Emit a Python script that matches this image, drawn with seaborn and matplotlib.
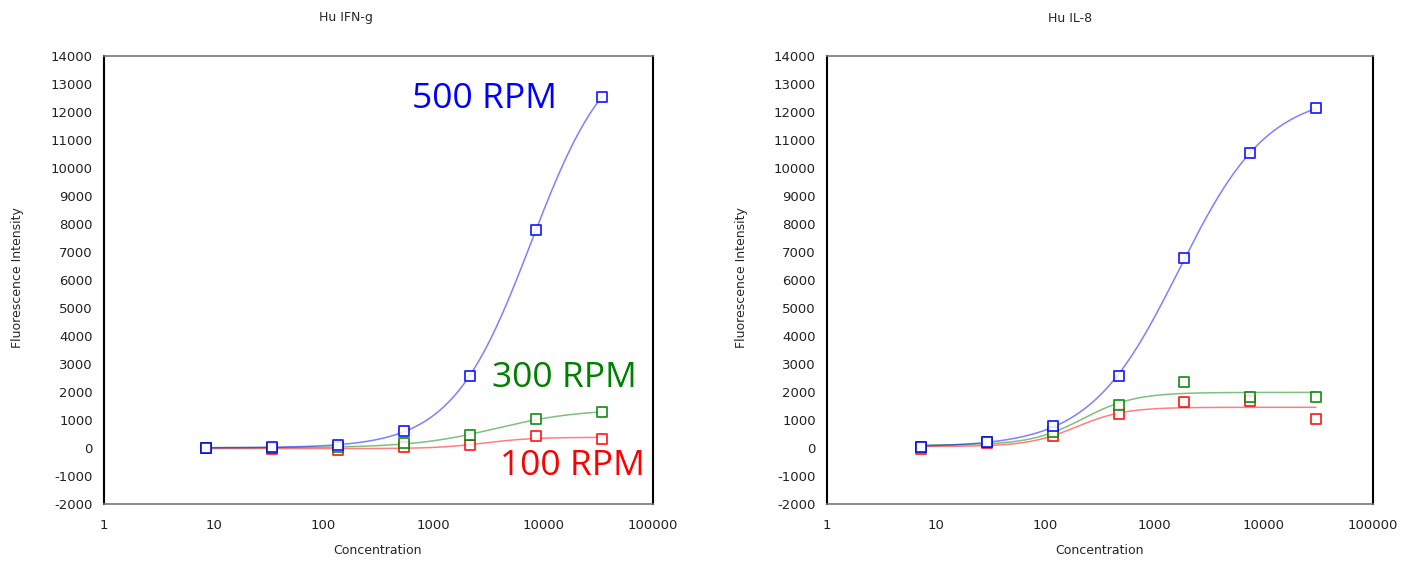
import numpy as np
import matplotlib
matplotlib.use('Agg')
import matplotlib.pyplot as plt
import seaborn as sns

# concentrations (4-fold dilution series) and fluorescence readings
conc_ifng = [8.5, 34, 135, 540, 2150, 8600, 34500]
ifng_500 = [0, 20, 100, 620, 2580, 7800, 12550]
ifng_300 = [0, 10, 40, 180, 460, 1030, 1280]
ifng_100 = [0, -20, -60, 20, 90, 415, 320]

conc_il8 = [7.3, 29, 117, 470, 1875, 7500, 30000]
il8_500 = [40, 220, 800, 2580, 6780, 10520, 12130]
il8_300 = [50, 200, 580, 1520, 2350, 1820, 1820]
il8_100 = [-20, 170, 430, 1220, 1640, 1690, 1040]

rpm_labels = ['500 RPM', '300 RPM', '100 RPM']
panel_titles = ['Hu IFN-g', 'Hu IL-8']
x_ticks = [1, 10, 100, 1000, 10000, 100000]
y_ticks = list(range(-2000, 14001, 1000))

COL = {'500': '#0000ff', '300': '#008000', '100': '#ff0000'}


def fit_4pl(x, y):
    """4PL fit by grid search over C and B, A/D solved linearly"""
    lx = np.log10(np.asarray(x, float))
    y = np.asarray(y, float)
    lc = np.arange(lx.min() - 0.5, lx.max() + 1.5, 0.02)
    bb = np.arange(0.5, 2.0, 0.02)
    LC, BB = np.meshgrid(lc, bb, indexing='ij')
    g = 1.0 / (1.0 + 10 ** (BB[..., None] * (lx - LC[..., None])))
    h = 1.0 - g
    sgg = (g * g).sum(-1); sgh = (g * h).sum(-1); shh = (h * h).sum(-1)
    sgy = (g * y).sum(-1); shy = (h * y).sum(-1)
    det = sgg * shh - sgh ** 2
    det[np.abs(det) < 1e-12] = np.nan
    A = (sgy * shh - shy * sgh) / det
    D = (shy * sgg - sgy * sgh) / det
    sse = ((A[..., None] * g + D[..., None] * h - y) ** 2).sum(-1)
    i, j = np.unravel_index(np.nanargmin(sse), sse.shape)
    return A[i, j], D[i, j], lc[i], bb[j]


def curve(x, y):
    A, D, lc, b = fit_4pl(x, y)
    xs = np.logspace(np.log10(x[0]), np.log10(x[-1]), 300)
    g = 1.0 / (1.0 + 10 ** (b * (np.log10(xs) - lc)))
    return xs, A * g + D * (1 - g)


sns.set_style('white')
plt.rcParams['font.family'] = ['DejaVu Sans']

fig = plt.figure(figsize=(14.03, 5.61), dpi=100)
ax1 = fig.add_axes([0.0741, 0.1016, 0.3913, 0.7986])
ax2 = fig.add_axes([0.5894, 0.1016, 0.3892, 0.7986])

panels = [
    (ax1, conc_ifng, [ifng_100, ifng_300, ifng_500]),
    (ax2, conc_il8, [il8_100, il8_300, il8_500]),
]

for ax, conc, series in panels:
    ax.set_xscale('log')
    for vals, key in zip(series, ['100', '300', '500']):
        c = COL[key]
        xs, ys = curve(conc, vals)
        sns.lineplot(x=xs, y=ys, ax=ax, color=c, lw=1.1, alpha=0.5,
                     estimator=None, sort=False)
        sns.scatterplot(x=conc, y=vals, ax=ax, marker='s', s=55,
                        color='white', edgecolor=c, linewidth=1.3,
                        alpha=0.85, zorder=3)
    ax.set_xlim(1, 100000)
    ax.set_ylim(-2000, 14000)
    ax.set_xticks(x_ticks)
    ax.set_xticklabels([str(t) for t in x_ticks])
    ax.minorticks_off()
    ax.set_yticks(y_ticks)
    ax.set_yticklabels([str(t) for t in y_ticks])
    ax.tick_params(axis='both', direction='out', length=5, width=1,
                   colors='black', labelsize=9.5, labelcolor='#222222')
    ax.tick_params(axis='y', pad=3)
    ax.tick_params(axis='x', pad=6)
    for side in ['left', 'right']:
        ax.spines[side].set_color('black')
        ax.spines[side].set_linewidth(1.5)
    for side in ['top', 'bottom']:
        ax.spines[side].set_color('#777777')
        ax.spines[side].set_linewidth(1.2)
    ax.set_xlabel('')
    ax.set_ylabel('')

# panel titles and axis labels
fig.text(346 / 1403, 1 - 18 / 561, panel_titles[0], ha='center', va='center', fontsize=9)
fig.text(1070 / 1403, 1 - 18 / 561, panel_titles[1], ha='center', va='center', fontsize=9)
for xc in [378, 1100]:
    fig.text(xc / 1403, 1 - 551 / 561, 'Concentration', ha='center', va='center', fontsize=9)
for xc in [18, 742]:
    fig.text(xc / 1403, 1 - 278 / 561, 'Fluorescence Intensity', ha='center', va='center',
             rotation=90, fontsize=9)

# RPM annotations on the IFN-g panel
ann_pos = [(0.561, 0.905), (0.707, 0.281), (0.721, 0.085)]
for lab, (xf, yf), key in zip(rpm_labels, ann_pos, ['500', '300', '100']):
    ax1.text(xf, yf, lab, transform=ax1.transAxes, color=COL[key], fontsize=25.5,
             family=['Open Sans', 'DejaVu Sans'], ha='left', va='center')

fig.savefig('out.png', dpi=100, facecolor='white')
